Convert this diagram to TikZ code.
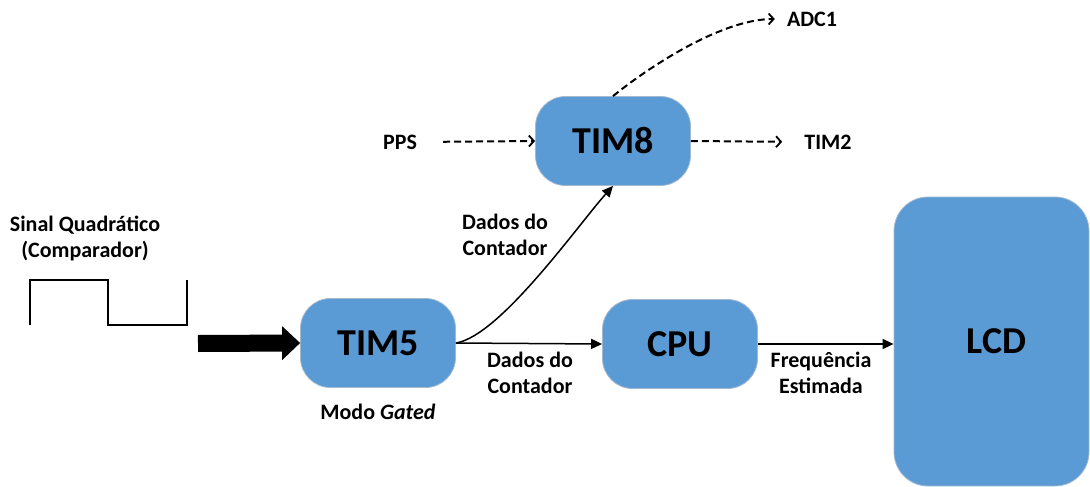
\documentclass[tikz,border=0pt]{standalone}
\usepackage{fontspec}
\setmainfont{Carlito}
\usetikzlibrary{arrows.meta}
\definecolor{boxblue}{RGB}{91,155,213}
\definecolor{boxedge}{RGB}{165,185,205}

\begin{document}
\begin{tikzpicture}[x=1pt,y=-1pt,
  block/.style={draw=boxedge, line width=0.8pt, fill=boxblue, rounded corners=30pt,
    minimum width=155pt, minimum height=89pt, inner sep=0pt,
    font=\fontsize{38}{40}\selectfont\bfseries},
  lbl/.style={font=\fontsize{22}{26}\selectfont\bfseries, align=center, inner sep=0pt},
  flow/.style={line width=1.5pt, -{Triangle[length=11pt,width=10pt]}},
  trig/.style={line width=2pt, dash pattern=on 7pt off 4pt,
    -{Straight Barb[length=5pt,width=11pt,line width=1.8pt]}},
]
\useasboundingbox (0,0) rectangle (1090,487);

% blocks
\node[block] (tim8) at (613,141) {TIM8};
\node[block] (tim5) at (378,343) {TIM5};
\node[block] (cpu)  at (680,344) {CPU};
\node[block, minimum width=195pt, minimum height=289pt, rounded corners=34pt] (lcd) at (991.5,341.5) {\hspace*{10pt}LCD};

% labels
\node[lbl] (pps)  at (400,142) {PPS};
\node[lbl] (tim2) at (828,142) {TIM2};
\node[lbl] (adc1) at (812,19)  {ADC1};
\node[lbl] (sig)  at (85,238) {Sinal Quadrático\\(Comparador)};
\node[lbl] (gate) at (378,412) {Modo \textit{Gated}};
\node[lbl] (dup)  at (505,235) {Dados do\\Contador};
\node[lbl] (dlow) at (530,373) {Dados do\\Contador};
\node[lbl] (freq) at (821,373) {Frequência\\Estimada};

% square wave from the comparator
\draw[line width=2.4pt] (30,325) -- (30,280) -- (108,280) -- (108,325) -- (187,325) -- (187,280);

% thick input arrow into TIM5
\coordinate (src) at (198,343.5);
\draw[line width=17pt, -{Triangle[length=18pt,width=34pt,line width=0pt]}] (src) -- (tim5.west);

% data paths
\draw[flow] (tim5.east) .. controls (500,336) and (578,225) .. (tim8.south);
\draw[flow] (tim5.east) -- (cpu.west);
\draw[flow] (cpu.east) -- (cpu.east -| lcd.west);

% trigger paths
\draw[trig, shorten <=26pt] (pps.east) -- (tim8.west);
\draw[trig, shorten >=22pt] (tim8.east) -- (tim2.west);
\draw[trig, shorten >=12pt] (tim8.north) .. controls (645,70) and (720,19) .. (adc1.west);
\end{tikzpicture}
\end{document}
